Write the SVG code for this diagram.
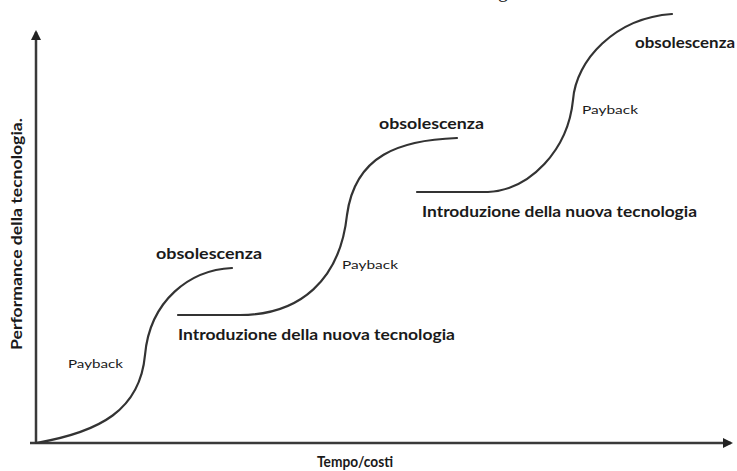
<svg xmlns="http://www.w3.org/2000/svg" width="737" height="471" viewBox="0 0 737 471">
  <style>
    .axis { stroke: #3a3a3a; stroke-width: 2.5; fill: none; }
    .curve { stroke: #333; stroke-width: 2.2; fill: none; stroke-linecap: round; }
    .lbl { font-family: "Lato", "Open Sans", "Liberation Sans", sans-serif; fill: #1a1a1a; font-weight: bold; }
    .big { font-size: 15px; }
    .small { font-size: 12px; font-weight: normal; }
  </style>
  <defs>
    <marker id="arr" viewBox="0 0 10 10" refX="8" refY="5" markerWidth="4" markerHeight="4" orient="auto">
      <path d="M0,0 L10,5 L0,10 Z" fill="#222"/>
    </marker>
  </defs>
  <rect width="737" height="471" fill="#fff"/>
  <text x="498" y="-3" font-family="Liberation Serif, serif" font-size="20" fill="#222">g</text>
  <g id="axes">
    <line class="axis" x1="36" y1="443" x2="36" y2="32" marker-end="url(#arr)"/>
    <line class="axis" x1="30" y1="443" x2="731" y2="443" marker-end="url(#arr)"/>
  </g>
  <g id="curves">
    <path class="curve" d="M36,443 C100,432 140,410 145,355 C150,300 190,270 232,268"/>
    <path class="curve" d="M178,315 L240,315 C300,315 340,280 347,215 C355,155 400,140 457,138"/>
    <path class="curve" d="M417,192 L488,192 C530,190 568,150 573,100 C576,60 615,18 672,14"/>
  </g>
  <g id="labels">
    <text class="lbl big" x="156" y="259" textLength="106" lengthAdjust="spacingAndGlyphs">obsolescenza</text>
    <text class="lbl big" x="379" y="129" textLength="105" lengthAdjust="spacingAndGlyphs">obsolescenza</text>
    <text class="lbl big" x="635" y="48" textLength="100" lengthAdjust="spacingAndGlyphs">obsolescenza</text>
    <text class="lbl small" x="68" y="368" textLength="55" lengthAdjust="spacingAndGlyphs">Payback</text>
    <text class="lbl small" x="342" y="269" textLength="56" lengthAdjust="spacingAndGlyphs">Payback</text>
    <text class="lbl small" x="582" y="114" textLength="56" lengthAdjust="spacingAndGlyphs">Payback</text>
    <text class="lbl big" x="178" y="340" textLength="277" lengthAdjust="spacingAndGlyphs">Introduzione della nuova tecnologia</text>
    <text class="lbl big" x="422" y="217" textLength="275" lengthAdjust="spacingAndGlyphs">Introduzione della nuova tecnologia</text>
    <text class="lbl" font-size="15.5" x="317" y="467" textLength="76" lengthAdjust="spacingAndGlyphs">Tempo/costi</text>
    <text class="lbl" font-size="16" transform="translate(22,350) rotate(-90)" textLength="232" lengthAdjust="spacingAndGlyphs">Performance della tecnologia.</text>
  </g>
</svg>
